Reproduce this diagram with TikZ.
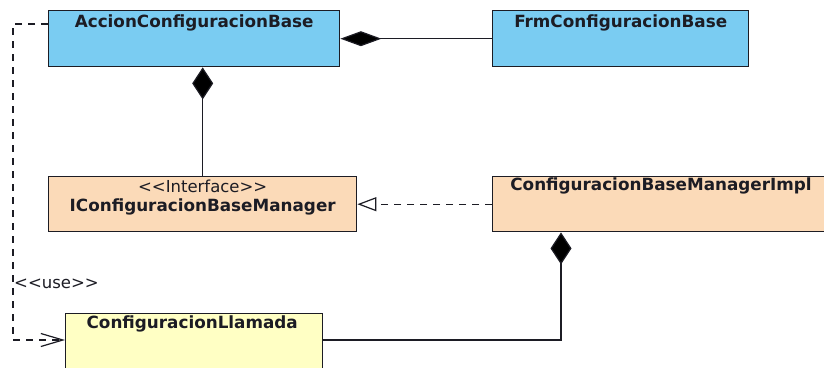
\documentclass[tikz,border=0pt]{standalone}
\usepackage{fontspec}
\setmainfont{DejaVu Sans}
\usetikzlibrary{arrows.meta}
\definecolor{classblue}{RGB}{122,204,242}
\definecolor{classpeach}{RGB}{251,218,184}
\definecolor{classyellow}{RGB}{255,255,196}
\definecolor{ink}{RGB}{28,28,36}
\newcommand{\lguil}{{<}{<}}
\newcommand{\rguil}{{>}{>}}
\tikzset{
  classbox/.style={draw=ink, line width=1.4pt, rectangle, inner sep=0pt, anchor=north west},
  classtitle/.style={anchor=base, inner sep=0pt, text=ink, font=\fontsize{16.8}{18}\selectfont\bfseries},
  stereo/.style={anchor=base, inner sep=0pt, text=ink, font=\fontsize{16.5}{18}\selectfont},
  link/.style={draw=ink, line width=1.2pt},
  dep/.style={link, dash pattern=on 7pt off 6pt},
  compose/.style={{Diamond[length=32pt,width=21pt,fill=black]}-},
}
\begin{document}
\begin{tikzpicture}[x=1pt, y=-1pt]
\useasboundingbox (0,0) rectangle (824,367);
\fill[white] (0,0) rectangle (824,367);
\begin{scope}
\clip (0,0) rectangle (824,367);

% class boxes
\node[classbox, fill=classblue, minimum width=291pt, minimum height=56pt] (accion) at (48,10) {};
\node[classbox, fill=classblue, minimum width=256pt, minimum height=56pt] (frm) at (492,10) {};
\node[classbox, fill=classpeach, minimum width=308pt, minimum height=55pt] (iface) at (48,176) {};
\node[classbox, fill=classpeach, minimum width=336pt, minimum height=55pt] (impl) at (492,176) {};
\node[classbox, fill=classyellow, minimum width=257pt, minimum height=70pt] (llamada) at (65,313) {};

% class names
\node[classtitle] (accionname) at ([yshift=-17pt]accion.north) {AccionConfiguracionBase};
\node[classtitle] (frmname) at ([yshift=-17pt]frm.north) {FrmConfiguracionBase};
\node[stereo] (ifacestereo) at ([yshift=-16pt]iface.north) {\lguil Interface\rguil};
\node[classtitle] (ifacename) at ([yshift=-35pt]iface.north) {IConfiguracionBaseManager};
\node[classtitle] (implname) at ([yshift=-14pt]impl.north -| 661,0) {ConfiguracionBaseManagerImpl};
\node[classtitle] (llamadaname) at ([xshift=-2pt,yshift=-15pt]llamada.north) {ConfiguracionLlamada};

% connector ports
\coordinate (implport) at ([xshift=69pt]impl.south west);
\coordinate (llamadaport) at ([yshift=-27pt]llamada.north west);
\coordinate (llamadaend) at ([yshift=-27pt]llamada.north east);
\coordinate (accionport) at ([yshift=-14pt]accion.north west);
\coordinate (usetrack) at (13,24);

% compositions
\draw[link, {Diamond[length=41pt,width=15pt,fill=black]}-] (accion.east) -- (frm.west);
\draw[link, compose] (iface.north |- accion.south) -- (iface.north);
\draw[link, compose] (implport) |- (llamadaend);

% realization
\draw[dep, -{Triangle[open,length=19pt,width=14pt,fill=white]}] (impl.west) -- (iface.east);

% usage dependency
\draw[dep, -{Straight Barb[length=22pt,width=13pt]}] (accionport) -- (usetrack) |- (llamadaport);
\node[stereo, anchor=base west] (uselabel) at (14,288) {\lguil use\rguil};
\end{scope}
\end{tikzpicture}
\end{document}
